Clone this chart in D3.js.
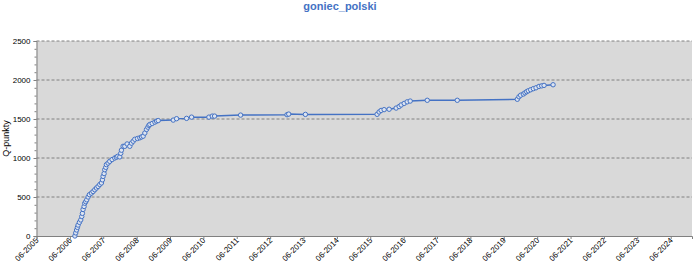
<!DOCTYPE html>
<html><head><meta charset="utf-8">
<script src="https://cdn.jsdelivr.net/npm/d3@7"></script>
<style>body{margin:0;background:#fff}svg{display:block}text{font-family:"Liberation Sans",Arial,sans-serif}</style>
</head><body><svg id="c" width="693" height="266"></svg>
<script>
const title = "goniec_polski";
const yLabel = "Q-punkty";
// decimal year, Q-points
const dates = [2006.565,2006.59,2006.616,2006.64,2006.66,2006.70,2006.74,2006.77,2006.79,2006.81,2006.84,2006.86,2006.89,2006.92,2006.96,2007.00,2007.06,2007.11,2007.16,2007.21,2007.26,2007.31,2007.36,2007.39,2007.41,2007.44,2007.46,2007.49,2007.51,2007.56,2007.61,2007.68,2007.76,2007.81,2007.85,2007.91,2007.94,2007.96,2008.01,2008.06,2008.13,2008.21,2008.26,2008.31,2008.36,2008.44,2008.51,2008.56,2008.61,2008.66,2008.71,2008.75,2008.78,2008.81,2008.88,2008.96,2009.01,2009.06,2009.51,2009.61,2009.91,2010.06,2010.58,2010.68,2010.75,2011.53,2012.92,2012.97,2013.47,2015.62,2015.68,2015.74,2015.83,2015.98,2016.19,2016.28,2016.34,2016.43,2016.52,2016.61,2017.12,2018.02,2019.82,2019.87,2019.92,2020.00,2020.05,2020.10,2020.15,2020.22,2020.30,2020.38,2020.47,2020.55,2020.62,2020.89];
const values = [0,40,77,110,140,175,206,250,290,340,378,420,440,464,500,530,550,570,593,615,635,660,680,720,764,800,850,880,915,935,957,980,1000,1010,1022,1014,1060,1100,1150,1150,1180,1150,1190,1215,1240,1250,1259,1270,1280,1320,1366,1395,1418,1430,1443,1460,1473,1480,1486,1504,1508,1524,1524,1537,1537,1550,1555,1563,1559,1560,1590,1610,1620,1625,1640,1660,1680,1700,1720,1730,1740,1740,1753,1785,1805,1820,1835,1850,1862,1875,1889,1900,1918,1925,1931,1939];
const yTicks = [0,500,1000,1500,2000,2500];
const xTickYears = d3.range(2005,2025);

const svg = d3.select("#c");
const L=36.5, R=692, T=41, B=236;
const toDate = y => { const yr=Math.floor(y); const s=new Date(yr,0,1), e=new Date(yr+1,0,1); return new Date(+s+(y-yr)*(e-s)); };
const x = d3.scaleTime().domain([new Date(2005,5,1), new Date(2025,0,20)]).range([L,R]);
const y = d3.scaleLinear().domain([0,2500]).range([B,T]);

svg.append("rect").attr("x",L).attr("y",T).attr("width",R-L).attr("height",B-T).attr("fill","#d9d9d9");
// grid
svg.append("g").selectAll("line").data(yTicks.filter(v=>v>0)).join("line")
  .attr("x1",L).attr("x2",R).attr("y1",d=>y(d)).attr("y2",d=>y(d))
  .attr("stroke","#808080").attr("stroke-dasharray","3,2").attr("stroke-width",1);

// y axis
const ya = svg.append("g").attr("transform",`translate(${L},0)`)
  .call(d3.axisLeft(y).tickValues(yTicks).tickSize(3).tickPadding(3).tickFormat(d3.format("d")));
ya.select(".domain").attr("stroke","#808080");
ya.selectAll(".tick line").attr("stroke","#808080");
ya.selectAll("text").attr("font-size",8).attr("fill","#000");
svg.append("g").attr("transform",`translate(${L},0)`)
  .call(d3.axisLeft(y).tickValues(d3.range(0,2501,100)).tickSize(2).tickFormat(""))
  .call(g=>{g.select(".domain").remove();g.selectAll("line").attr("stroke","#808080");});

// x axis
const xa = svg.append("g").attr("transform",`translate(0,${B})`)
  .call(d3.axisBottom(x).tickValues(xTickYears.map(yr=>new Date(yr,5,1))).tickSize(3).tickFormat(d3.timeFormat("%m-%Y")));
xa.select(".domain").attr("stroke","#808080");
xa.selectAll(".tick line").attr("stroke","#808080");
xa.selectAll("text").attr("font-size",8).attr("fill","#000")
  .attr("text-anchor","end").attr("dy",0).attr("y",5).attr("x",-2)
  .attr("transform","rotate(-45)");

// series
const pts = dates.map((d,i)=>({d:toDate(d), v:values[i]}));
svg.append("path").datum(pts).attr("fill","none").attr("stroke","#4472c4").attr("stroke-width",1.5)
  .attr("d", d3.line().x(p=>x(p.d)).y(p=>y(p.v)));
svg.append("g").selectAll("circle").data(pts).join("circle")
  .attr("cx",p=>x(p.d)).attr("cy",p=>y(p.v)).attr("r",2.2)
  .attr("fill","#dde4f0").attr("stroke","#4472c4").attr("stroke-width",1);

svg.append("text").attr("x",340).attr("y",10).attr("text-anchor","middle")
  .attr("font-size",11).attr("font-weight","bold").attr("fill","#4472c4").text(title);
svg.append("text").attr("transform",`translate(9,${(T+B)/2}) rotate(-90)`).attr("text-anchor","middle")
  .attr("font-size",9).attr("fill","#000").text(yLabel);
</script></body></html>
